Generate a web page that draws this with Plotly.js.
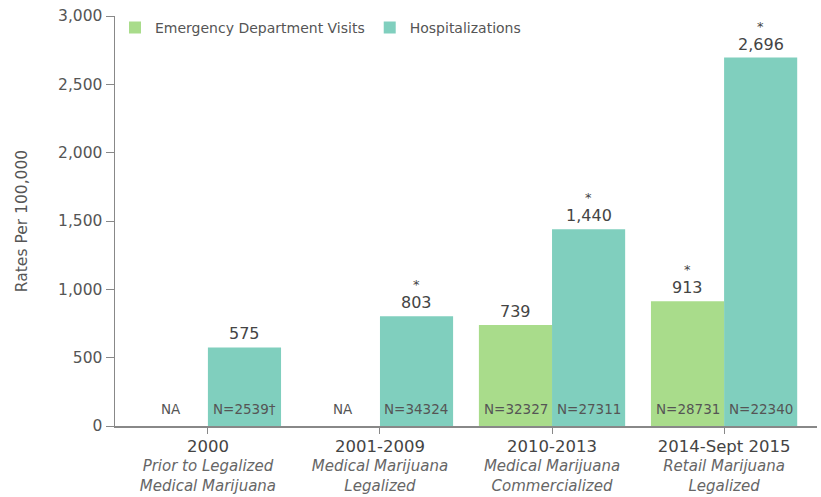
<!DOCTYPE html>
<html>
<head>
<meta charset="utf-8">
<script src="https://cdn.plot.ly/plotly-3.0.1.min.js"></script>
<style>html,body{margin:0;padding:0;background:#fff;}#chart{width:821px;height:497px;}</style>
</head>
<body>
<div id="chart"></div>
<script>
const categories = ["2000", "2001-2009", "2010-2013", "2014-Sept 2015"];
const subtitles = ["Prior to Legalized<br>Medical Marijuana", "Medical Marijuana<br>Legalized", "Medical Marijuana<br>Commercialized", "Retail Marijuana<br>Legalized"];
const edVisits = [null, null, 739, 913];
const hospitalizations = [575, 803, 1440, 2696];
const edStars = ["", "", "", "*"];
const hospStars = ["", "*", "*", "*"];
const edN = ["NA", "NA", "N=32327", "N=28731"];
const hospN = ["N=2539†", "N=34324", "N=27311", "N=22340"];
const yTicks = [0, 500, 1000, 1500, 2000, 2500, 3000];

const fontFam = "DejaVu Sans, Verdana, sans-serif";
const green = "#a9dc8b";
const teal = "#80cfbe";
const shift = 36.5;

const traces = [
  {type: "bar", name: "Emergency Department Visits", x: categories, y: edVisits, marker: {color: green}, hoverinfo: "none"},
  {type: "bar", name: "Hospitalizations", x: categories, y: hospitalizations, marker: {color: teal}, hoverinfo: "none"}
];

const annotations = [];
function addSeries(vals, stars, ns, dx) {
  categories.forEach((c, i) => {
    const v = vals[i];
    annotations.push({x: i, y: 0, xref: "x", yref: "y", xshift: dx, yshift: 7, yanchor: "bottom", text: ns[i], showarrow: false, font: {family: fontFam, size: 13.5, color: "#555"}});
    if (v !== null) {
      annotations.push({x: i, y: v, xref: "x", yref: "y", xshift: dx, yshift: 2, yanchor: "bottom", text: v.toLocaleString("en-US"), showarrow: false, font: {family: fontFam, size: 16, color: "#444"}});
      if (stars[i]) {
        annotations.push({x: i, y: v, xref: "x", yref: "y", xshift: dx, yshift: 22, yanchor: "bottom", text: stars[i], showarrow: false, font: {family: fontFam, size: 13, color: "#444"}});
      }
    }
  });
}
addSeries(edVisits, edStars, edN, -shift);
addSeries(hospitalizations, hospStars, hospN, shift);

const tickText = categories.map((c, i) => '<span style="font-size:16.5px;color:#444">' + c + '</span><br><i>' + subtitles[i] + '</i>');

const layout = {
  width: 821, height: 497,
  margin: {l: 115, r: 4, t: 16, b: 71},
  paper_bgcolor: "#fff", plot_bgcolor: "#fff",
  font: {family: fontFam, color: "#555"},
  barmode: "group", bargap: 0.15, bargroupgap: 0,
  showlegend: true,
  legend: {orientation: "h", x: 0.0, y: 1.01, xanchor: "left", yanchor: "top", font: {family: fontFam, size: 14, color: "#555"}, bgcolor: "rgba(0,0,0,0)", itemwidth: 30, tracegroupgap: 0},
  xaxis: {type: "category", range: [-0.54, 3.54], tickmode: "array", tickvals: categories, ticktext: tickText,
    tickfont: {family: fontFam, size: 15, color: "#666"}, ticks: "outside", ticklen: 6, tickcolor: "#888",
    showline: true, linecolor: "#888", linewidth: 1.5, showgrid: false, zeroline: false},
  yaxis: {range: [0, 3000], tickmode: "array", tickvals: yTicks, ticktext: yTicks.map(v => v.toLocaleString("en-US")),
    tickfont: {family: fontFam, size: 15.5, color: "#555"}, ticks: "outside", ticklen: 8, tickcolor: "#888",
    showline: true, linecolor: "#888", linewidth: 1.5, showgrid: false, zeroline: false,
    title: {text: "Rates Per 100,000", font: {family: fontFam, size: 15.5, color: "#555"}, standoff: 26}},
  annotations: annotations
};

Plotly.newPlot("chart", traces, layout, {displayModeBar: false, staticPlot: true});
</script>
</body>
</html>
